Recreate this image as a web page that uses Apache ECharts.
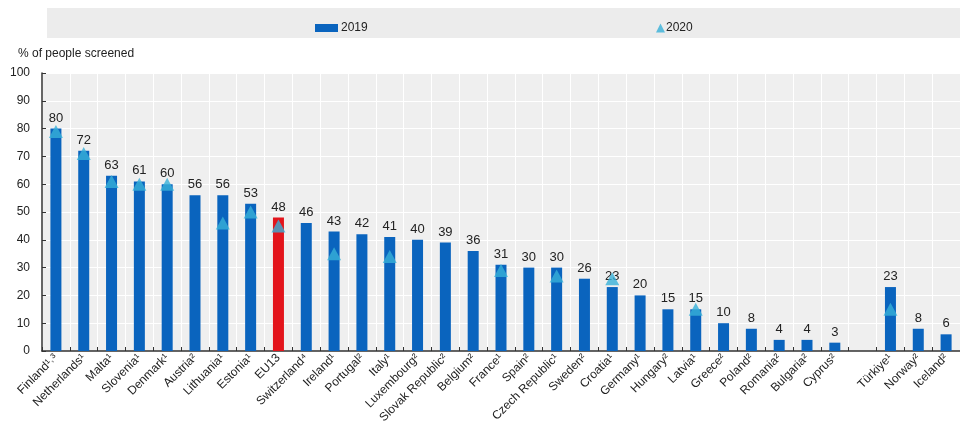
<!DOCTYPE html>
<html><head><meta charset="utf-8">
<script src="https://cdn.jsdelivr.net/npm/echarts@6/dist/echarts.min.js"></script>
<style>html,body{margin:0;padding:0;background:#fff}#c{width:960px;height:428px}</style>
</head><body><div id="c"></div>
<script>
const categories = ['Finland¹˒³','Netherlands¹','Malta¹','Slovenia¹','Denmark¹','Austria²','Lithuania¹','Estonia¹','EU13','Switzerland⁴','Ireland¹','Portugal²','Italy¹','Luxembourg²','Slovak Republic²','Belgium²','France¹','Spain²','Czech Republic¹','Sweden²','Croatia¹','Germany¹','Hungary²','Latvia¹','Greece²','Poland²','Romania²','Bulgaria²','Cyprus²','','Türkiye¹','Norway²','Iceland²'];
const values2019 = [80,72,63,61,60,56,56,53,48,46,43,42,41,40,39,36,31,30,30,26,23,20,15,15,10,8,4,4,3,null,23,8,6];
const values2020 = [79,71,61,60,60,null,46,50,45,null,35,null,34,null,null,null,29,null,27,null,26,null,null,15,null,null,null,null,null,null,15,null,null];
const yTicks = [0,10,20,30,40,50,60,70,80,90,100];
const highlight = 'EU13';

const chart = echarts.init(document.getElementById('c'));
const barData = values2019.map((v,i)=> v==null ? '-' : (categories[i]===highlight ? {value:v,itemStyle:{color:'#e3141b'}} : v));
const triData = values2020.map(v=> v==null ? '-' : v);

chart.setOption({
  animation:false,
  textStyle:{fontFamily:'Liberation Sans, Arial, sans-serif'},
  graphic:[
    {type:'rect',left:47,top:8,shape:{width:913,height:30},style:{fill:'#ececec'},z:-1},
    {type:'text',left:18,top:48,style:{text:'% of people screened',fontSize:12,fill:'#222',fontFamily:'Liberation Sans, Arial, sans-serif'}}
  ],
  legend:[
    {data:['2019'],left:310,top:17,itemWidth:23,itemHeight:8,icon:'rect',textStyle:{fontSize:12,color:'#222',padding:[0,0,0,-2]}},
    {data:['2020'],left:651,top:17,itemWidth:9,itemHeight:9,icon:'triangle',itemGap:0,textStyle:{fontSize:12,color:'#222',padding:[0,0,0,-4]}}
  ],
  grid:{left:42,top:73,width:922,bottom:77,show:true,backgroundColor:'#efefef',borderWidth:0,containLabel:false},
  xAxis:{
    type:'category',data:categories,
    axisLine:{lineStyle:{color:'#333',width:1.5}},
    axisTick:{show:true,inside:true,length:4,lineStyle:{color:'#333'}},
    splitLine:{show:true,lineStyle:{color:'#ffffff',width:1}},
    axisLabel:{rotate:45,fontSize:12,color:'#222',margin:5,interval:0}
  },
  yAxis:{
    type:'value',min:0,max:100,interval:10,
    axisLine:{show:true,lineStyle:{color:'#333',width:1.5}},
    axisTick:{show:true,inside:true,length:4,lineStyle:{color:'#333'}},
    splitLine:{show:true,lineStyle:{color:'#ffffff',width:1}},
    axisLabel:{fontSize:12,color:'#222',margin:12,formatter:v=>yTicks.includes(v)?String(v):''}
  },
  series:[
    {name:'2019',type:'bar',data:barData,barWidth:11,itemStyle:{color:'#0a64be'},
     label:{show:true,position:'top',distance:4,fontSize:13,color:'#222'},z:2},
    {name:'2020',type:'scatter',data:triData,symbol:'triangle',symbolSize:[14,13],itemStyle:{color:'#37b0d8'},z:3}
  ]
});
</script></body></html>
